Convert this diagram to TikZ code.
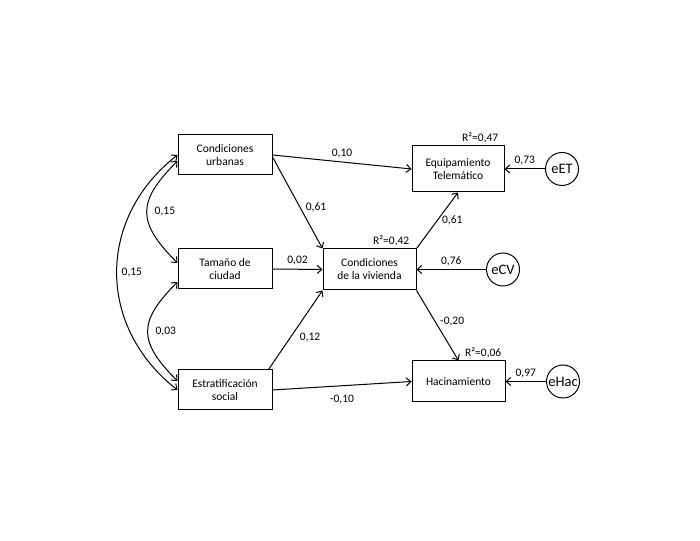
\documentclass[tikz,border=0pt]{standalone}
\usepackage{fontspec}
\setmainfont{Carlito}
\usetikzlibrary{arrows.meta}
\begin{document}
\begin{tikzpicture}[x=1pt,y=1pt,
    >={Straight Barb[length=4.5pt,width=8pt]},
    every node/.style={font=\fontsize{11.5}{13}\selectfont},
    var/.style={draw, line width=1pt, minimum width=94pt, minimum height=40pt,
      align=center, inner sep=0pt},
    err/.style={draw, circle, line width=1pt, minimum size=33pt, inner sep=0pt,
      font=\fontsize{14.5}{16}\selectfont},
    effect/.style={->, line width=1pt},
    cov/.style={<->, line width=1pt},
    rsq/.style={anchor=south east, inner sep=2pt}]
  \useasboundingbox (0,0) rectangle (700,540);
  % variables
  \node[var] (CU) at (225,385) {Condiciones\\urbanas};
  \node[var] (TC) at (225,271) {Tamaño de\\ciudad};
  \node[var] (ES) at (225,150) {Estratificación\\social};
  \node[var, minimum width=93pt, minimum height=41pt] (CV) at (369.5,270.5)
    {Condiciones\\de la vivienda};
  \node[var, minimum width=92pt, minimum height=46pt] (ET) at (458,371)
    {Equipamiento\\Telemático};
  \node[var, minimum width=93pt, minimum height=41pt] (HA) at (458.5,158.5)
    {Hacinamiento};
  % errors
  \node[err] (eET) at (562,371) {eET};
  \node[err] (eCV) at (503,270.5) {eCV};
  \node[err] (eHA) at (563,158.5) {eHac};
  % R2
  \node[rsq] (rET) at ([xshift=-4pt]ET.north east) {R²=0,47};
  \node[rsq] (rCV) at ([xshift=-5pt]CV.north east) {R²=0,42};
  \node[rsq] (rHA) at ([xshift=-2pt]HA.north east) {R²=0,06};
  % effects
  \draw[effect] (CU.east) -- (ET.west) node[midway, above] {0,10};
  \draw[effect] ([yshift=-2pt]CU.east) -- (CV.north west)
    node[pos=0.55, right=2pt] {0,61};
  \draw[effect] (TC.east) -- (CV.west) node[midway, above] {0,02};
  \draw[effect] ([xshift=-4pt]ES.north east) -- (CV.south west)
    node[pos=0.4, right=6pt] {0,12};
  \draw[effect] (ES.east) -- (HA.west) node[midway, below=5pt] {-0,10};
  \draw[effect] (CV.north east) -- (ET.south) node[midway, right=1pt] {0,61};
  \draw[effect] (CV.south east) -- (HA.north) node[pos=0.45, right=1pt] {-0,20};
  \draw[effect] (eET) -- (ET) node[midway, above] {0,73};
  \draw[effect] (eCV) -- (CV) node[midway, above] {0,76};
  \draw[effect] (eHA) -- (HA) node[midway, above] {0,97};
  % covariances
  \draw[cov] (CU.west) to[out=218, in=142, looseness=1.12]
    node[midway, right=1pt] {0,15} (ES.west);
  \draw[cov] ([yshift=-6pt]CU.west) to[out=225, in=135, looseness=1.45]
    node[midway, right=4pt] {0,15} ([yshift=6pt]TC.west);
  \draw[cov] ([yshift=-13pt]TC.west) to[out=225, in=135, looseness=1.45]
    node[midway, right=4pt] {0,03} ([yshift=9pt]ES.west);
\end{tikzpicture}
\end{document}
